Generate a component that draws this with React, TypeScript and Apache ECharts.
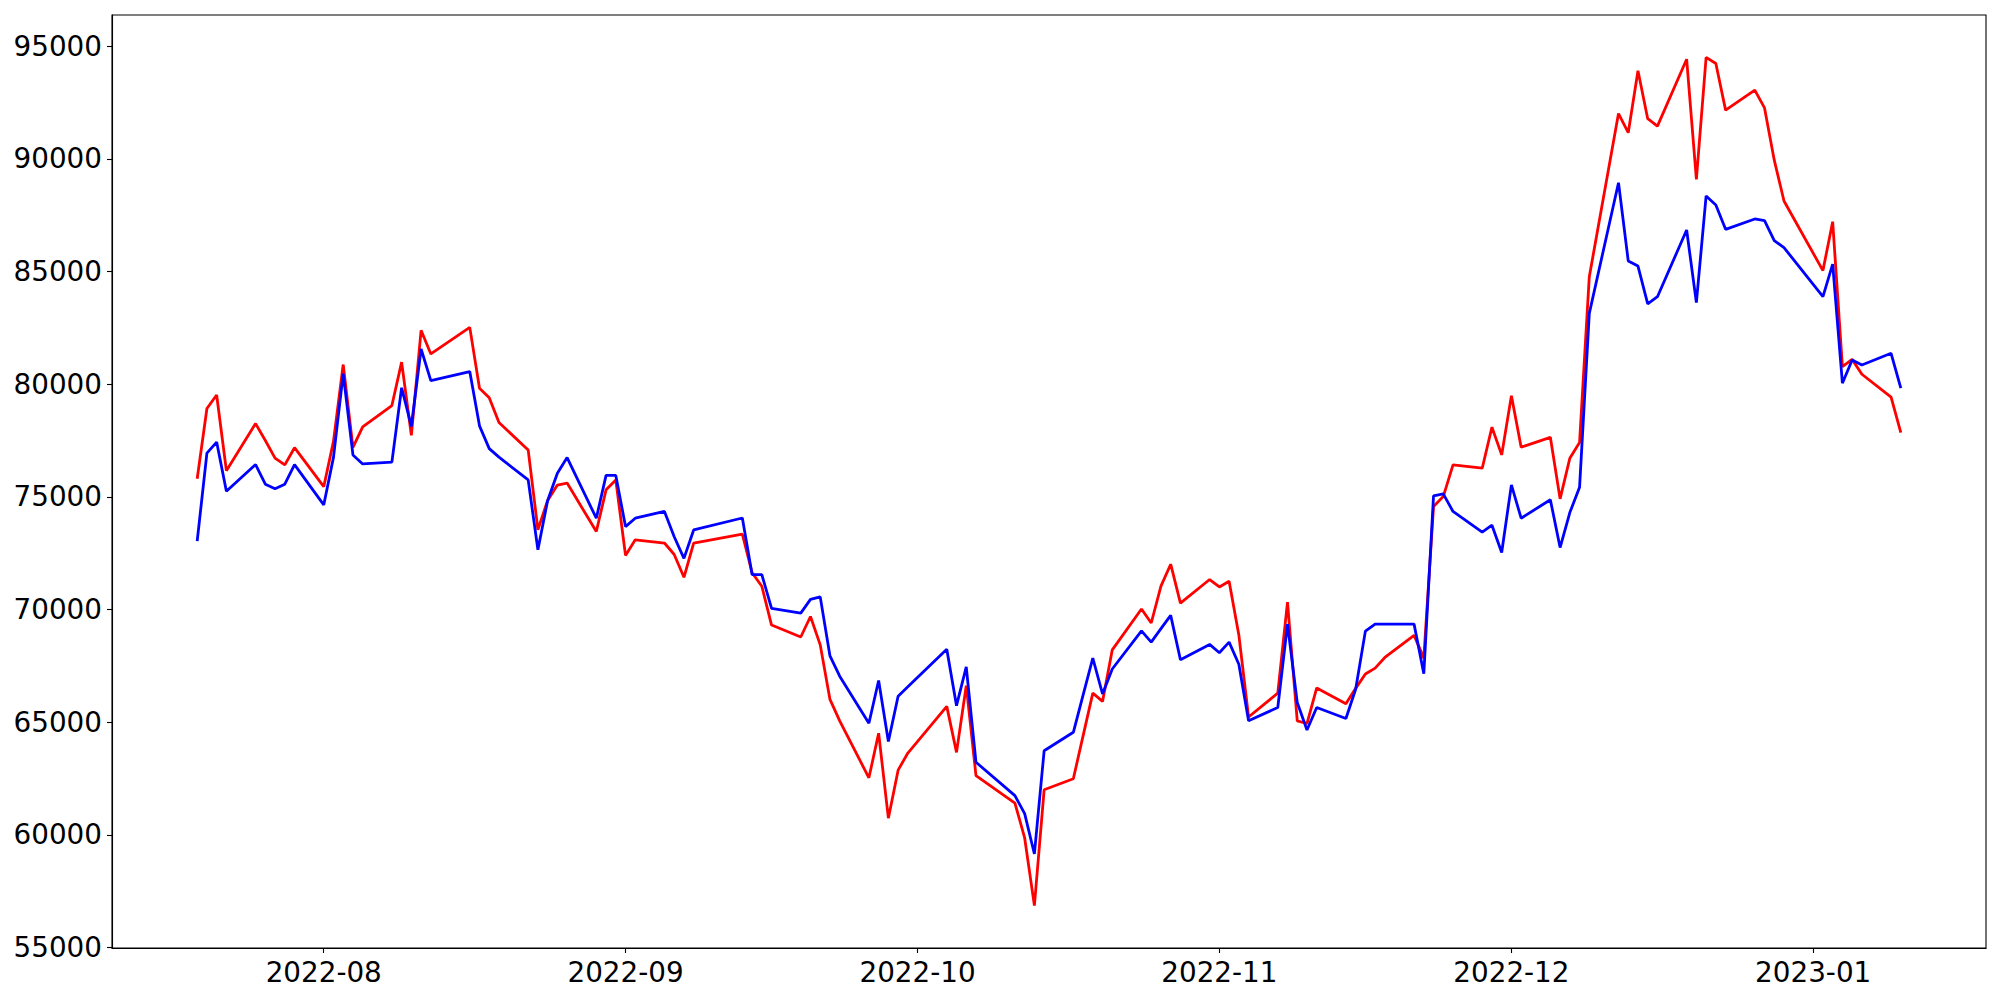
import React, { useEffect, useRef } from 'react';
import * as echarts from 'echarts';

const dates: string[] = [
  '2022-07-19', '2022-07-20', '2022-07-21', '2022-07-22', '2022-07-25', '2022-07-26', '2022-07-27', '2022-07-28', '2022-07-29',
  '2022-08-01', '2022-08-02', '2022-08-03', '2022-08-04', '2022-08-05', '2022-08-08', '2022-08-09', '2022-08-10', '2022-08-11', '2022-08-12',
  '2022-08-16', '2022-08-17', '2022-08-18', '2022-08-19', '2022-08-22', '2022-08-23', '2022-08-24', '2022-08-25', '2022-08-26',
  '2022-08-29', '2022-08-30', '2022-08-31', '2022-09-01', '2022-09-02', '2022-09-05', '2022-09-06', '2022-09-07', '2022-09-08',
  '2022-09-13', '2022-09-14', '2022-09-15', '2022-09-16', '2022-09-19', '2022-09-20', '2022-09-21', '2022-09-22', '2022-09-23',
  '2022-09-26', '2022-09-27', '2022-09-28', '2022-09-29', '2022-09-30', '2022-10-04', '2022-10-05', '2022-10-06', '2022-10-07',
  '2022-10-11', '2022-10-12', '2022-10-13', '2022-10-14', '2022-10-17', '2022-10-18', '2022-10-19', '2022-10-20', '2022-10-21',
  '2022-10-24', '2022-10-25', '2022-10-26', '2022-10-27', '2022-10-28', '2022-10-31', '2022-11-01', '2022-11-02', '2022-11-03',
  '2022-11-04', '2022-11-07', '2022-11-08', '2022-11-09', '2022-11-10', '2022-11-11', '2022-11-14', '2022-11-15', '2022-11-16',
  '2022-11-17', '2022-11-18', '2022-11-21', '2022-11-22', '2022-11-23', '2022-11-24', '2022-11-25', '2022-11-28', '2022-11-29',
  '2022-11-30', '2022-12-01', '2022-12-02', '2022-12-05', '2022-12-06', '2022-12-07', '2022-12-08', '2022-12-09', '2022-12-12',
  '2022-12-13', '2022-12-14', '2022-12-15', '2022-12-16', '2022-12-19', '2022-12-20', '2022-12-21', '2022-12-22', '2022-12-23',
  '2022-12-26', '2022-12-27', '2022-12-28', '2022-12-29', '2023-01-02', '2023-01-03', '2023-01-04', '2023-01-05', '2023-01-06',
  '2023-01-09', '2023-01-10',
];

const redValues: number[] = [
  75800, 78920, 79520, 76160, 78250, 77500, 76720, 76420, 77180,
  75450, 77460, 80870, 77190, 78100, 79050, 80980, 77730, 82390, 81340,
  82520, 79820, 79400, 78300, 77080, 73540, 74840, 75520, 75610,
  73460, 75310, 75750, 72400, 73090, 72950, 72440, 71430, 72950,
  73340, 71630, 71030, 69310, 68780, 69690, 68430, 66010, 65060,
  62530, 64510, 60740, 62870, 63630, 65700, 63660, 66620, 62630,
  61410, 59860, 56860, 62000, 62490, 64390, 66290, 65920, 68210,
  70020, 69400, 71040, 72010, 70280, 71330, 71000, 71250, 68870,
  65230, 66290, 70330, 65060, 64940, 66520, 65820, 66500, 67140,
  67400, 67870, 68850, 67840, 74570, 75010, 76420, 76270, 78090,
  76860, 79490, 77200, 77640, 74910, 76710, 77410, 84770, 92010,
  91160, 93910, 91780, 91450, 94420, 89090, 94500, 94230, 92160,
  93050, 92260, 89940, 88130, 85040, 87210, 80780, 81100, 80440,
  79420, 77850,
];

const blueValues: number[] = [
  73030, 76940, 77430, 75250, 76430, 75560, 75360, 75560, 76430,
  74640, 76750, 80470, 76860, 76460, 76540, 79840, 78130, 81560, 80160,
  80560, 78150, 77140, 76760, 75750, 72650, 74840, 76050, 76740,
  74050, 75950, 75950, 73680, 74050, 74350, 73230, 72270, 73530,
  74060, 71550, 71550, 70050, 69840, 70450, 70560, 67940, 67040,
  64950, 66850, 64140, 66150, 66570, 68240, 65730, 67450, 63220,
  61740, 60940, 59150, 63730, 64550, 66200, 67840, 66250, 67360,
  69050, 68550, 69150, 69740, 67770, 68450, 68080, 68550, 67570,
  65060, 65650, 69350, 65870, 64650, 65650, 65160, 66460, 69040,
  69350, 69350, 69350, 67150, 75040, 75130, 74350, 73430, 73740,
  72530, 75530, 74050, 74870, 72750, 74300, 75430, 83140, 88940,
  85470, 85240, 83560, 83880, 86840, 83620, 88350, 87950, 86870,
  87330, 87260, 86370, 86060, 83880, 85330, 80040, 81070, 80850,
  81370, 79820,
];

const xTickLabels: string[] = ['2022-08', '2022-09', '2022-10', '2022-11', '2022-12', '2023-01'];
const yTickValues: number[] = [55000, 60000, 65000, 70000, 75000, 80000, 85000, 90000, 95000];

const toTs = (s: string): number => {
  const [y, m, d] = s.split('-').map(Number);
  return Date.UTC(y, m - 1, d || 1);
};

export default function App() {
  const ref = useRef<HTMLDivElement>(null);

  useEffect(() => {
    if (!ref.current) return;
    const chart = echarts.init(ref.current, null, { renderer: 'svg' });
    const xs = dates.map(toTs);
    const x0 = xs[0];
    const x1 = xs[xs.length - 1];
    const xr = x1 - x0;
    const all = [...redValues, ...blueValues];
    const yMin = Math.min(...all);
    const yMax = Math.max(...all);
    const yr = yMax - yMin;
    const monthTicks = xTickLabels.map((l) => toTs(l + '-01'));
    const labelFont = {
      fontSize: 27.8,
      color: '#000',
      fontFamily: 'DejaVu Sans',
    };

    chart.setOption({
      animation: false,
      backgroundColor: '#fff',
      grid: {
        left: 112,
        right: 14,
        top: 15,
        bottom: 52,
        show: true,
        borderColor: '#000',
        borderWidth: 1.1,
        backgroundColor: '#fff',
      },
      xAxis: {
        type: 'value',
        min: x0 - 0.05 * xr,
        max: x1 + 0.05 * xr,
        splitLine: { show: false },
        axisLine: { show: true, onZero: false, lineStyle: { color: '#000', width: 1.1 } },
        axisTick: { show: true, customValues: monthTicks, length: 5, lineStyle: { color: '#000', width: 1.1 } },
        axisLabel: {
          ...labelFont,
          customValues: monthTicks,
          margin: 10,
          formatter: (v: number) => {
            const i = monthTicks.indexOf(v);
            return i >= 0 ? xTickLabels[i] : '';
          },
        },
      },
      yAxis: {
        type: 'value',
        min: yMin - 0.05 * yr,
        max: yMax + 0.05 * yr,
        splitLine: { show: false },
        axisLine: { show: true, onZero: false, lineStyle: { color: '#000', width: 1.1 } },
        axisTick: { show: true, customValues: yTickValues, length: 5, lineStyle: { color: '#000', width: 1.1 } },
        axisLabel: {
          ...labelFont,
          customValues: yTickValues,
          margin: 10,
          formatter: (v: number) => String(Math.round(v)),
        },
      },
      series: [
        {
          type: 'line',
          data: xs.map((x, i) => [x, redValues[i]]),
          showSymbol: false,
          symbol: 'none',
          lineStyle: { color: '#ff0000', width: 2.8 },
          itemStyle: { color: '#ff0000' },
        },
        {
          type: 'line',
          data: xs.map((x, i) => [x, blueValues[i]]),
          showSymbol: false,
          symbol: 'none',
          lineStyle: { color: '#0000ff', width: 2.8 },
          itemStyle: { color: '#0000ff' },
        },
      ],
    });

    return () => chart.dispose();
  }, []);

  return (
    <div
      ref={ref}
      style={{ position: 'fixed', left: 0, top: 0, width: 2000, height: 1000, background: '#fff' }}
    />
  );
}
